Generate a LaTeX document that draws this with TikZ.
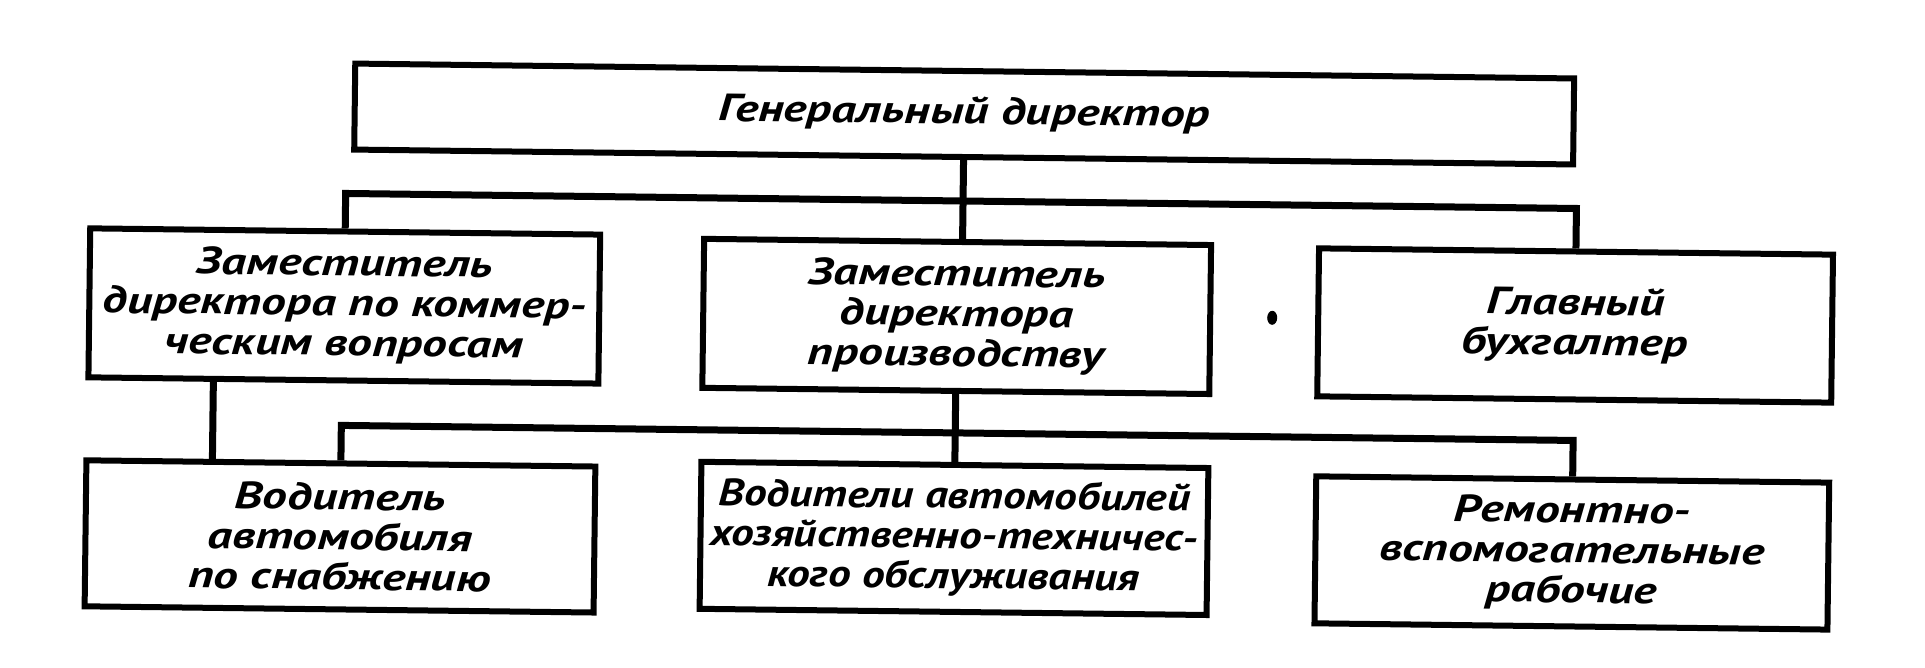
\documentclass[tikz,border=0pt]{standalone}
\usepackage{fontspec}
\setmainfont{PT Sans}[FakeStretch=1.3]
\newfontfamily\narrowfont{PT Sans}[FakeStretch=1.19]
\begin{document}
\begin{tikzpicture}[x=1pt,y=-1pt,
  box/.style={draw, line width=6pt, align=center, inner sep=0pt,
    font=\fontsize{38pt}{40pt}\selectfont\bfseries\itshape},
  conn/.style={line width=7pt, line join=miter}]
\useasboundingbox (0,0) rectangle (1925,667);
\begin{scope}[rotate around={-0.7:(962,333)}, transform shape]
\node[box, minimum width=1219pt, minimum height=86pt] (gd) at (961.5,114) {Генеральный директор};
\node[box, minimum width=510pt, minimum height=149pt] (z1) at (344,313.5) {Заместитель\\директора по коммер-\\ческим вопросам};
\node[box, minimum width=507pt, minimum height=149pt] (z2) at (956.5,316.5) {Заместитель\\директора\\производству};
\node[box, minimum width=514pt, minimum height=148pt] (z3) at (1575,318) {Главный\\бухгалтер};
\node[box, minimum width=509pt, minimum height=146pt] (b4) at (342.5,544) {Водитель\\автомобиля\\по снабжению};
\node[box, minimum width=507pt, minimum height=147pt,
  font=\fontsize{38pt}{40pt}\narrowfont\bfseries\itshape] (b5) at (956.5,538.5) {Водители автомобилей\\хозяйственно-техничес-\\кого обслуживания};
\node[box, minimum width=513pt, minimum height=147pt] (b6) at (1574.5,545.5) {Ремонтно-\\вспомогательные\\рабочие};
\coordinate (bus1) at (0,201);
\coordinate (bus2) at (0,433);
\coordinate (v4) at (214,0);
\draw[conn] (gd.south) -- (gd.south |- z2.north);
\draw[conn] (z1.north) -- (z1.north |- bus1) -- (z3.north |- bus1) -- (z3.north);
\draw[conn] (v4 |- z1.south) -- (v4 |- b4.north);
\draw[conn] (z2.south) -- (b5.north);
\draw[conn] (b4.north) -- (b4.north |- bus2) -- (b6.north |- bus2) -- (b6.north);
\fill (1272,314) ellipse (5pt and 7pt);
\end{scope}
\end{tikzpicture}
\end{document}
